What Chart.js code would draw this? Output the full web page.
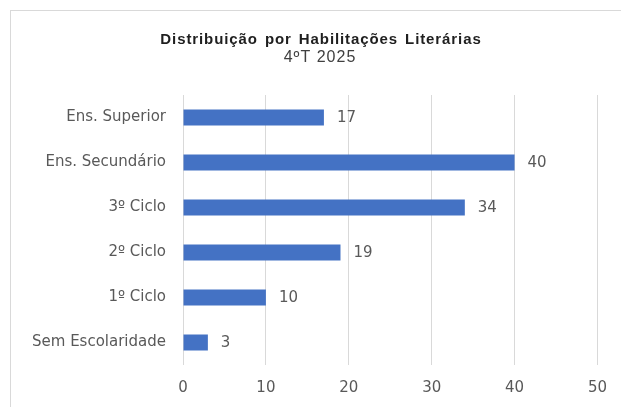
<!DOCTYPE html>
<html>
<head>
<meta charset="utf-8">
<script src="https://cdn.jsdelivr.net/npm/chart.js@4/dist/chart.umd.min.js"></script>
<style>
  html, body { margin: 0; padding: 0; background: #fff; }
  #frame { position: absolute; left: 10px; top: 10px; width: 640px; height: 420px;
           border-left: 1px solid #d9d9d9; border-top: 1px solid #d9d9d9; }
  #wrap { position: absolute; left: 0; top: 0; width: 621px; height: 407px; }
</style>
</head>
<body>
<div id="frame"></div>
<div id="wrap"><canvas id="chart"></canvas></div>
<script>
// dados: Distribuição por Habilitações Literárias, 4ºT 2025
const titulo = 'Distribuição por Habilitações Literárias';
const subtitulo = '4ºT 2025';
const categorias = ['Ens. Superior', 'Ens. Secundário', '3º Ciclo', '2º Ciclo', '1º Ciclo', 'Sem Escolaridade'];
const valores = [17, 40, 34, 19, 10, 3];
const eixoMin = 0;
const eixoMax = 50;
const eixoPasso = 10;

const fonte = '"DejaVu Sans", "Open Sans", sans-serif';
const fonteTitulo = '"Liberation Sans", Arial, sans-serif';
const cinza = '#595959';

// título e subtítulo, centrados como no original (x ≈ 320)
const cabecalho = {
  id: 'cabecalho',
  afterDraw(chart) {
    const ctx = chart.ctx;
    ctx.save();
    ctx.textAlign = 'center';
    ctx.textBaseline = 'middle';
    ctx.fillStyle = '#1f1f1f';
    ctx.font = 'bold 15px ' + fonteTitulo;
    ctx.letterSpacing = '0.9px';
    ctx.wordSpacing = '2px';
    ctx.fillText(titulo, 321, 40);
    ctx.fillStyle = '#404040';
    ctx.font = '16px ' + fonteTitulo;
    ctx.letterSpacing = '1px';
    ctx.wordSpacing = '0px';
    ctx.fillText(subtitulo, 320, 58);
    ctx.restore();
  }
};

// rótulos de valor à direita de cada barra
const rotulos = {
  id: 'rotulos',
  afterDatasetsDraw(chart) {
    const ctx = chart.ctx;
    const meta = chart.getDatasetMeta(0);
    ctx.save();
    ctx.font = '15px ' + fonte;
    ctx.fillStyle = cinza;
    ctx.textAlign = 'left';
    ctx.textBaseline = 'middle';
    meta.data.forEach((bar, i) => {
      ctx.fillText(String(valores[i]), bar.x + 13, bar.y + 1);
    });
    ctx.restore();
  }
};

new Chart(document.getElementById('chart'), {
  type: 'bar',
  data: {
    labels: categorias,
    datasets: [{
      data: valores,
      backgroundColor: '#4472C4',
      borderWidth: 0,
      categoryPercentage: 1,
      barPercentage: 0.36,
    }],
  },
  options: {
    indexAxis: 'y',
    responsive: true,
    maintainAspectRatio: false,
    animation: false,
    layout: { padding: { top: 95, right: 22, left: 0, bottom: 0 } },
    scales: {
      x: {
        min: eixoMin,
        max: eixoMax,
        ticks: { stepSize: eixoPasso, padding: 14, color: cinza, font: { family: fonte, size: 15 } },
        grid: { color: '#d9d9d9', drawTicks: false },
        border: { display: false },
        afterFit(s) { s.height = 42; },
      },
      y: {
        ticks: { padding: 17, color: cinza, font: { family: fonte, size: 15 } },
        grid: { display: false, drawTicks: false },
        border: { display: false },
        afterFit(s) { s.width = 183; },
      },
    },
    plugins: {
      legend: { display: false },
      tooltip: { enabled: false },
    },
  },
  plugins: [rotulos, cabecalho],
});
</script>
</body>
</html>
